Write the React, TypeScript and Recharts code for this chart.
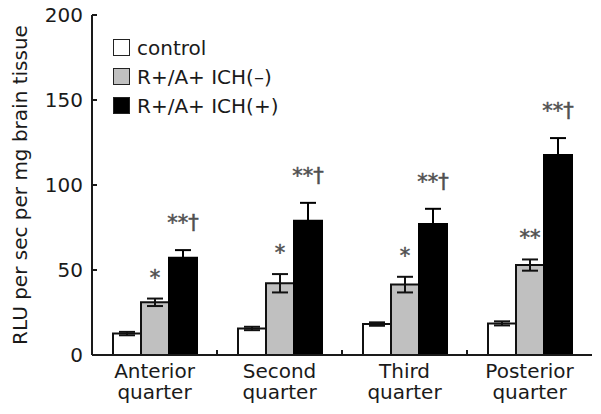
import {
  BarChart,
  Bar,
  XAxis,
  YAxis,
  ErrorBar,
  LabelList,
  Legend,
  Label,
} from "recharts";

const categories = ["Anterior quarter", "Second quarter", "Third quarter", "Posterior quarter"];
const control = [12.6, 15.6, 18.2, 18.6];
const controlErr = [1, 1, 1, 1.2];
const ichNeg = [31, 42.2, 41.4, 52.9];
const ichNegErr = [2.2, 5.4, 4.6, 3.3];
const ichPos = [57.2, 79, 77, 117.6];
const ichPosErr = [4.5, 10.5, 9, 10];
const negMarks = ["*", "*", "*", "**"];
const posMarks = ["**\u2020", "**\u2020", "**\u2020", "**\u2020"];
const yTicks = [0, 50, 100, 150, 200];

const series = [
  { key: "control", name: "control", fill: "#ffffff" },
  { key: "neg", name: "R+/A+ ICH(\u2013)", fill: "#c0c0c0" },
  { key: "pos", name: "R+/A+ ICH(+)", fill: "#000000" },
];

const data = categories.map((name, i) => ({
  name,
  control: control[i],
  controlErr: controlErr[i],
  neg: ichNeg[i],
  negErr: ichNegErr[i],
  negMark: negMarks[i],
  pos: ichPos[i],
  posErr: ichPosErr[i],
  posMark: posMarks[i],
}));

const FONT = "'DejaVu Sans', sans-serif";
const INK = "#1a1a1a";
const W = 601;
const H = 414;
const X_H = 59;
const Y_W = 92;
const M = { top: 15, right: 9, bottom: 0, left: 0 };

function QuarterTick({ x, y, payload, index }: any) {
  const [a, b] = String(payload.value).split(" ");
  const half = payload.offset ?? (W - M.left - M.right - Y_W) / categories.length / 2;
  const txt = { textAnchor: "middle" as const, fill: INK, fontSize: 20, fontFamily: FONT };
  return (
    <g>
      {index < categories.length - 1 && (
        <line x1={x + half} x2={x + half} y1={y} y2={y - 5} stroke={INK} strokeWidth={2} />
      )}
      <text x={x} y={y + 23} {...txt}>{a}</text>
      <text x={x} y={y + 44} {...txt}>{b}</text>
    </g>
  );
}

// significance marks sit above the error bar
function markLabel(vals: number[], errs: number[], gap: number) {
  return (props: any) => {
    const { x, y, width, height, index, value } = props;
    const pxPerUnit = height / vals[index];
    const top = y - errs[index] * pxPerUnit;
    return (
      <text
        x={x + width / 2}
        y={top - gap}
        textAnchor="middle"
        fill="#505050"
        stroke="#505050"
        strokeWidth={0.5}
        fontSize={21}
        fontFamily={FONT}
      >
        {value}
      </text>
    );
  };
}

function LegendBox() {
  return (
    <div style={{ fontFamily: FONT, fontSize: 20, color: INK }}>
      {series.map((s) => (
        <div key={s.key} style={{ display: "flex", alignItems: "center", height: 29 }}>
          <span
            style={{
              display: "inline-block",
              width: 15,
              height: 15,
              background: s.fill,
              border: "1.5px solid #222",
              marginRight: 7,
            }}
          />
          <span style={{ lineHeight: "20px" }}>{s.name}</span>
        </div>
      ))}
    </div>
  );
}

export default function App() {
  return (
    <div style={{ position: "absolute", left: 0, top: 0, width: W, height: H, background: "#fff" }}>
      <BarChart width={W} height={H} data={data} margin={M} barGap={0}>
        <XAxis
          dataKey="name"
          interval={0}
          tickSize={0}
          tickMargin={0}
          tickLine={false}
          height={X_H}
          axisLine={{ stroke: INK, strokeWidth: 2 }}
          tick={<QuarterTick />}
        />
        <XAxis
          xAxisId="top"
          dataKey="name"
          orientation="top"
          height={0}
          tick={false}
          tickLine={false}
          axisLine={{ stroke: INK, strokeWidth: 2 }}
        />
        <YAxis
          domain={[0, 200]}
          ticks={yTicks}
          width={Y_W}
          tickSize={-5}
          tickMargin={14}
          axisLine={{ stroke: INK, strokeWidth: 2 }}
          tickLine={{ stroke: INK, strokeWidth: 2 }}
          tick={{ fill: INK, fontSize: 20, fontFamily: FONT }}
        >
          <Label
            content={({ viewBox }: any) => {
              const cx = (viewBox?.x ?? 0) + 27;
              const cy = (viewBox?.y ?? 0) + (viewBox?.height ?? 0) / 2;
              return (
                <text
                  x={cx}
                  y={cy}
                  transform={`rotate(-90, ${cx}, ${cy})`}
                  textAnchor="middle"
                  fill={INK}
                  fontSize={20}
                  fontFamily={FONT}
                >
                  RLU per sec per mg brain tissue
                </text>
              );
            }}
          />
        </YAxis>
        <YAxis
          yAxisId="right"
          orientation="right"
          domain={[0, 200]}
          width={0}
          tick={false}
          tickLine={false}
          axisLine={{ stroke: INK, strokeWidth: 2 }}
        />
        <Legend
          layout="vertical"
          align="center"
          verticalAlign="middle"
          wrapperStyle={{ left: 113, top: 33 }}
          content={() => <LegendBox />}
        />
        <Bar dataKey="control" name={series[0].name} fill={series[0].fill} stroke="#111" strokeWidth={2} barSize={28} isAnimationActive={false}>
          <ErrorBar dataKey="controlErr" width={8} stroke="#111" strokeWidth={2} />
        </Bar>
        <Bar dataKey="neg" name={series[1].name} fill={series[1].fill} stroke="#111" strokeWidth={2} barSize={28} isAnimationActive={false}>
          <ErrorBar dataKey="negErr" width={8} stroke="#111" strokeWidth={2} />
          <LabelList dataKey="negMark" content={markLabel(ichNeg, ichNegErr, 14)} />
        </Bar>
        <Bar dataKey="pos" name={series[2].name} fill={series[2].fill} stroke="#000" strokeWidth={2} barSize={28} isAnimationActive={false}>
          <ErrorBar dataKey="posErr" width={8} stroke="#000" strokeWidth={2} />
          <LabelList dataKey="posMark" content={markLabel(ichPos, ichPosErr, 20)} />
        </Bar>
      </BarChart>
    </div>
  );
}
